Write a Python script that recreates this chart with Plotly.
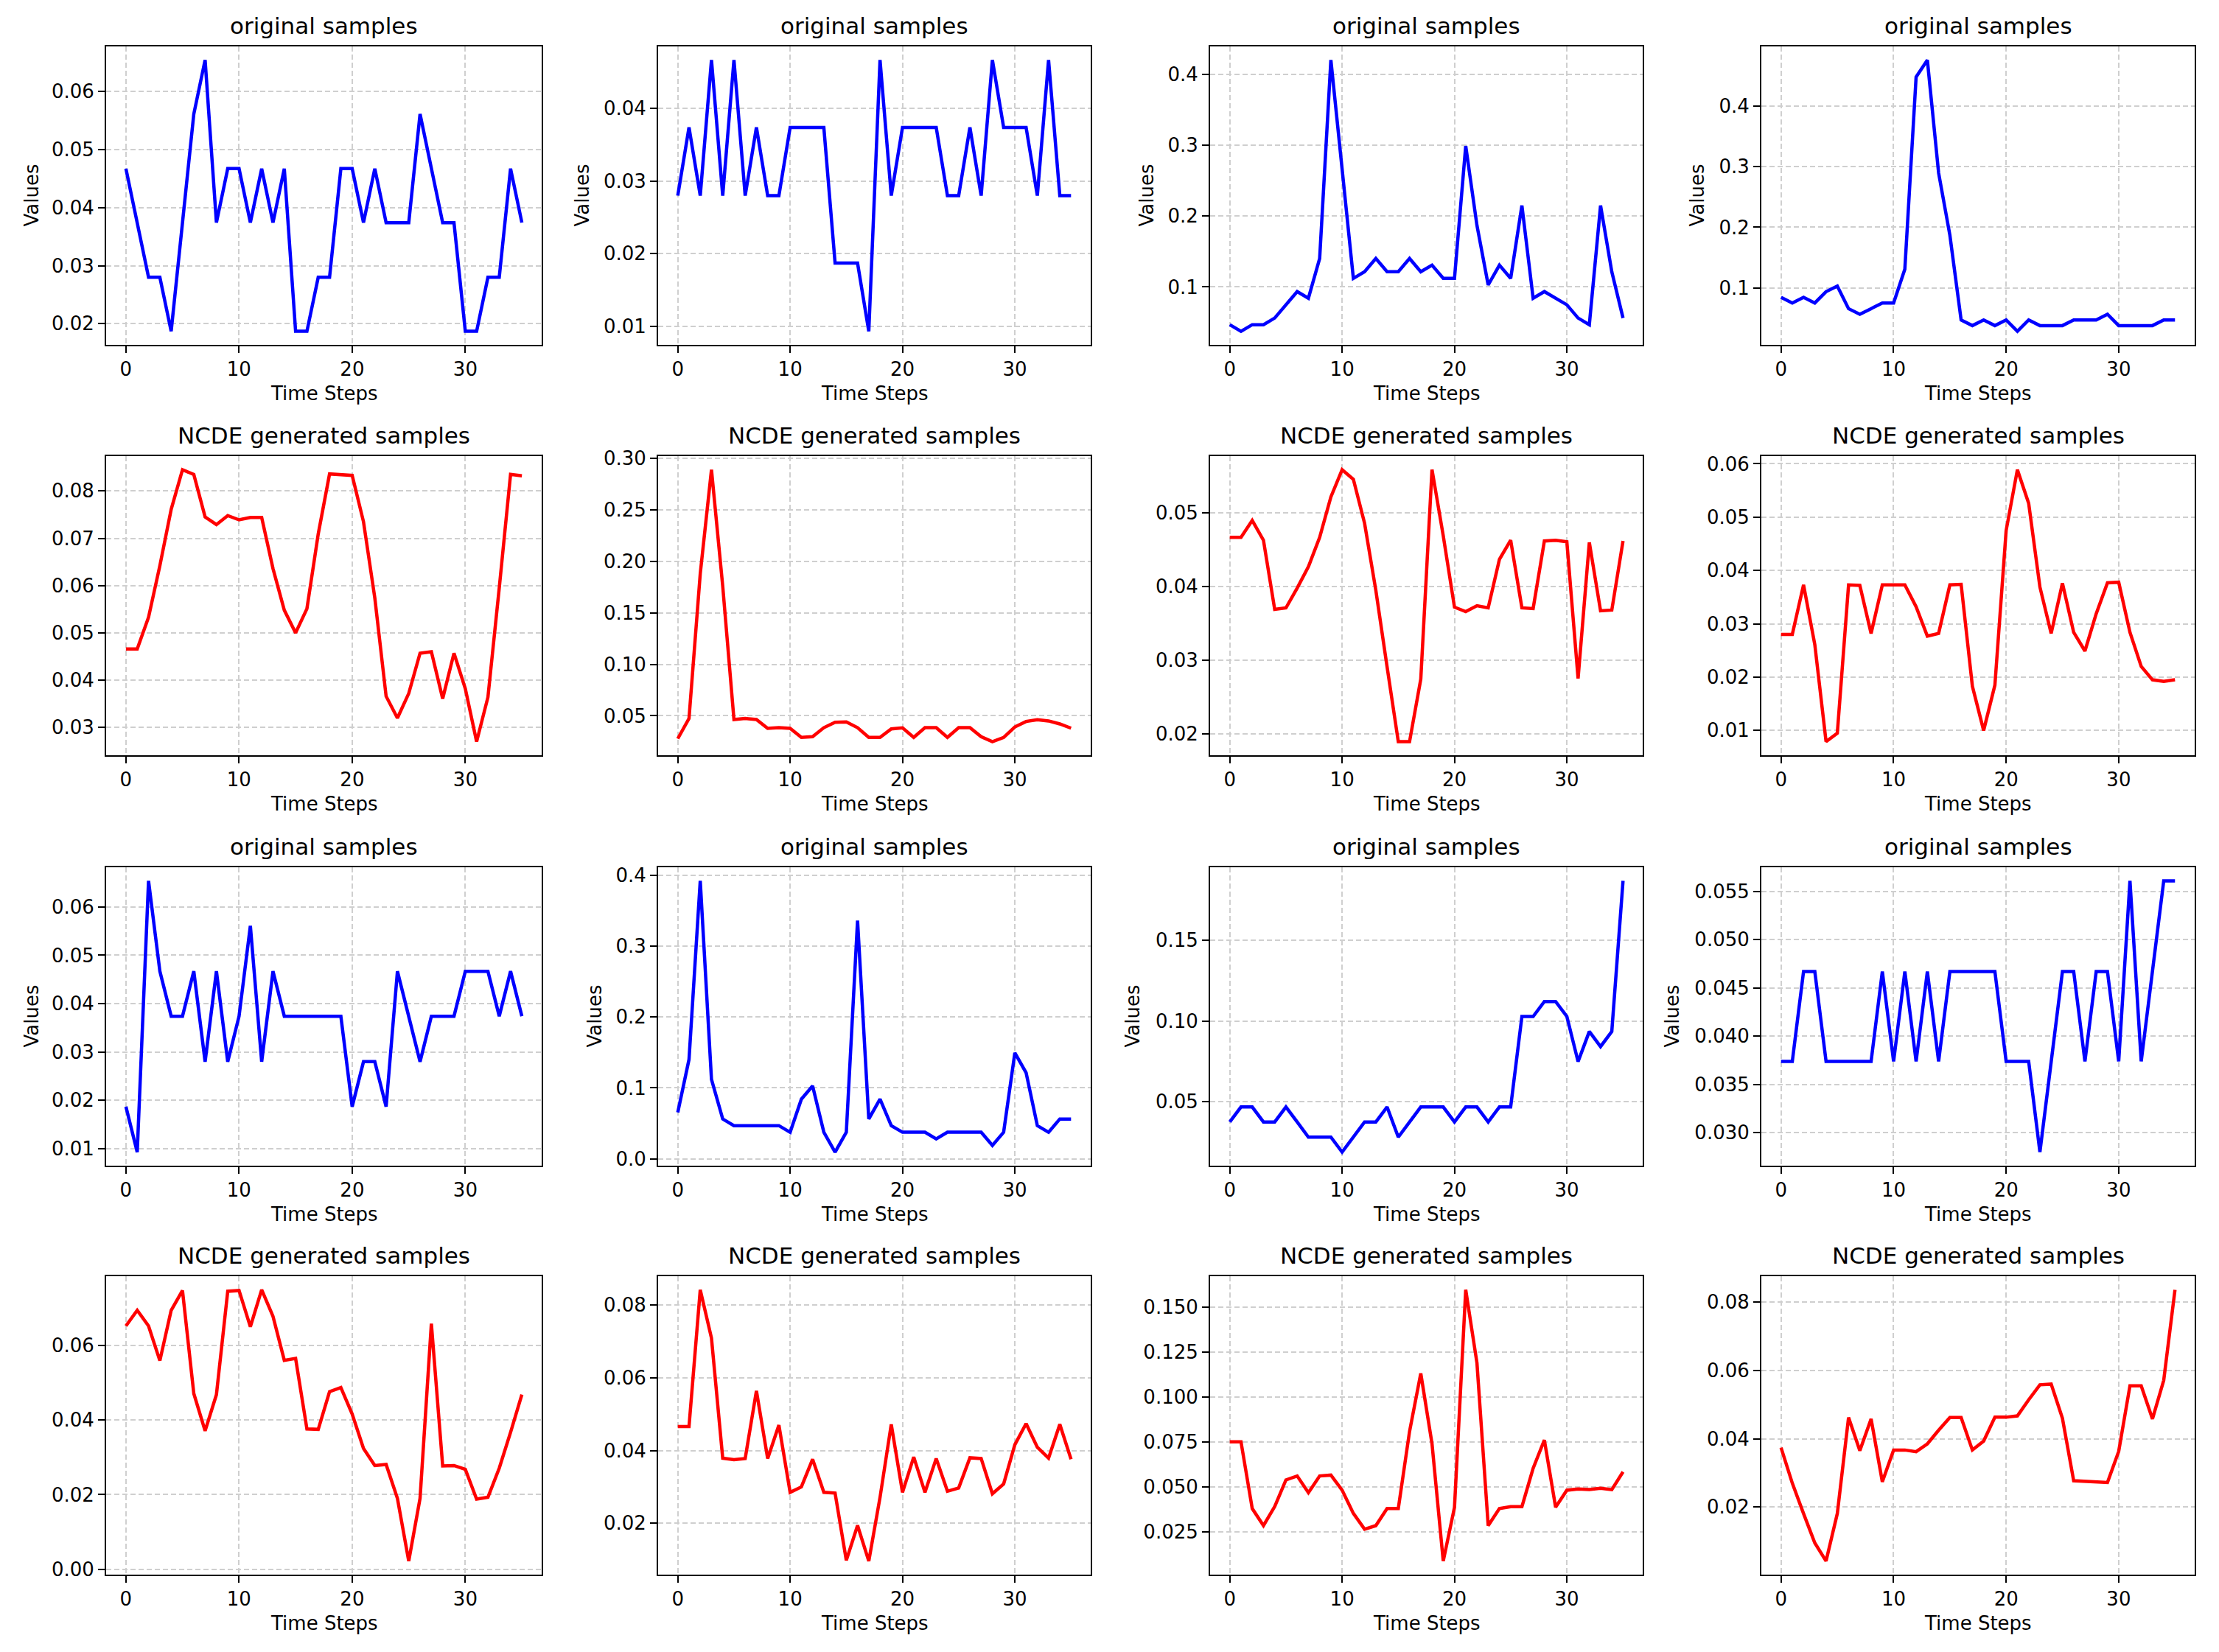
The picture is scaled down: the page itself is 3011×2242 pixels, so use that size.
import plotly.graph_objects as go

time_steps = list(range(36))

# Row 1 (original samples)
orig_r1c1 = [0.0467,0.0374,0.0280,0.0280,0.0187,0.0374,0.0561,0.0654,0.0374,0.0467,0.0467,0.0374,0.0467,0.0374,0.0467,0.0187,0.0187,0.0280,0.0280,0.0467,0.0467,0.0374,0.0467,0.0374,0.0374,0.0374,0.0561,0.0467,0.0374,0.0374,0.0187,0.0187,0.0280,0.0280,0.0467,0.0374]
orig_r1c2 = [0.0280,0.0374,0.0280,0.0467,0.0280,0.0467,0.0280,0.0374,0.0280,0.0280,0.0374,0.0374,0.0374,0.0374,0.0187,0.0187,0.0187,0.0093,0.0467,0.0280,0.0374,0.0374,0.0374,0.0374,0.0280,0.0280,0.0374,0.0280,0.0467,0.0374,0.0374,0.0374,0.0280,0.0467,0.0280,0.0280]
orig_r1c3 = [0.0467,0.0374,0.0467,0.0467,0.0561,0.0748,0.0935,0.0841,0.1402,0.4206,0.2617,0.1121,0.1215,0.1402,0.1215,0.1215,0.1402,0.1215,0.1308,0.1121,0.1121,0.2991,0.1869,0.1028,0.1308,0.1121,0.2150,0.0841,0.0935,0.0841,0.0748,0.0561,0.0467,0.2150,0.1215,0.0561]
orig_r1c4 = [0.0841,0.0748,0.0841,0.0748,0.0935,0.1028,0.0654,0.0561,0.0654,0.0748,0.0748,0.1308,0.4486,0.4766,0.2897,0.1869,0.0467,0.0374,0.0467,0.0374,0.0467,0.0280,0.0467,0.0374,0.0374,0.0374,0.0467,0.0467,0.0467,0.0561,0.0374,0.0374,0.0374,0.0374,0.0467,0.0467]

# Row 2 (NCDE generated samples)
gen_r2c1 = [0.0466,0.0466,0.0533,0.0642,0.0761,0.0845,0.0835,0.0745,0.0729,0.0748,0.0739,0.0744,0.0744,0.0636,0.0548,0.0500,0.0551,0.0709,0.0836,0.0835,0.0833,0.0735,0.0574,0.0366,0.0320,0.0372,0.0457,0.0460,0.0361,0.0457,0.0382,0.0270,0.0364,0.0595,0.0835,0.0832]
gen_r2c2 = [0.0278,0.0474,0.1880,0.2890,0.1760,0.0464,0.0474,0.0464,0.0378,0.0385,0.0378,0.0290,0.0297,0.0385,0.0438,0.0440,0.0385,0.0290,0.0290,0.0373,0.0383,0.0290,0.0385,0.0385,0.0290,0.0385,0.0385,0.0297,0.0249,0.0290,0.0392,0.0445,0.0462,0.0450,0.0421,0.0380]
gen_r2c3 = [0.0467,0.0467,0.0490,0.0463,0.0369,0.0371,0.0398,0.0427,0.0467,0.0522,0.0559,0.0546,0.0486,0.0395,0.0291,0.0189,0.0189,0.0274,0.0559,0.0469,0.0372,0.0366,0.0374,0.0371,0.0437,0.0463,0.0371,0.0370,0.0462,0.0463,0.0461,0.0275,0.0460,0.0367,0.0368,0.0462]
gen_r2c4 = [0.0280,0.0280,0.0373,0.0261,0.0079,0.0095,0.0373,0.0372,0.0282,0.0373,0.0373,0.0373,0.0332,0.0277,0.0282,0.0373,0.0374,0.0183,0.0100,0.0185,0.0475,0.0589,0.0526,0.0369,0.0282,0.0376,0.0284,0.0249,0.0319,0.0377,0.0378,0.0284,0.0220,0.0195,0.0192,0.0195]

# Row 3 (original samples)
orig_r3c1 = [0.0187,0.0093,0.0654,0.0467,0.0374,0.0374,0.0467,0.0280,0.0467,0.0280,0.0374,0.0561,0.0280,0.0467,0.0374,0.0374,0.0374,0.0374,0.0374,0.0374,0.0187,0.0280,0.0280,0.0187,0.0467,0.0374,0.0280,0.0374,0.0374,0.0374,0.0467,0.0467,0.0467,0.0374,0.0467,0.0374]
orig_r3c2 = [0.0654,0.1402,0.3925,0.1121,0.0561,0.0467,0.0467,0.0467,0.0467,0.0467,0.0374,0.0841,0.1028,0.0374,0.0093,0.0374,0.3364,0.0561,0.0841,0.0467,0.0374,0.0374,0.0374,0.0280,0.0374,0.0374,0.0374,0.0374,0.0187,0.0374,0.1495,0.1215,0.0467,0.0374,0.0561,0.0561]
orig_r3c3 = [0.0374,0.0467,0.0467,0.0374,0.0374,0.0467,0.0374,0.0280,0.0280,0.0280,0.0187,0.0280,0.0374,0.0374,0.0467,0.0280,0.0374,0.0467,0.0467,0.0467,0.0374,0.0467,0.0467,0.0374,0.0467,0.0467,0.1028,0.1028,0.1121,0.1121,0.1028,0.0748,0.0935,0.0841,0.0935,0.1869]
orig_r3c4 = [0.0374,0.0374,0.0467,0.0467,0.0374,0.0374,0.0374,0.0374,0.0374,0.0467,0.0374,0.0467,0.0374,0.0467,0.0374,0.0467,0.0467,0.0467,0.0467,0.0467,0.0374,0.0374,0.0374,0.0280,0.0374,0.0467,0.0467,0.0374,0.0467,0.0467,0.0374,0.0561,0.0374,0.0467,0.0561,0.0561]

# Row 4 (NCDE generated samples)
gen_r4c1 = [0.0652,0.0694,0.0652,0.0559,0.0694,0.0747,0.0471,0.0371,0.0468,0.0745,0.0747,0.0650,0.0749,0.0678,0.0560,0.0565,0.0376,0.0375,0.0476,0.0487,0.0416,0.0324,0.0278,0.0281,0.0190,0.0022,0.0190,0.0658,0.0277,0.0278,0.0268,0.0188,0.0193,0.0271,0.0367,0.0468]
gen_r4c2 = [0.0466,0.0466,0.0842,0.0709,0.0379,0.0375,0.0378,0.0564,0.0378,0.0470,0.0285,0.0300,0.0376,0.0285,0.0283,0.0098,0.0194,0.0096,0.0271,0.0472,0.0285,0.0382,0.0285,0.0378,0.0288,0.0297,0.0380,0.0378,0.0281,0.0308,0.0416,0.0474,0.0409,0.0379,0.0472,0.0376]
gen_r4c3 = [0.0750,0.0750,0.0379,0.0284,0.0390,0.0538,0.0560,0.0467,0.0560,0.0565,0.0481,0.0352,0.0264,0.0284,0.0379,0.0379,0.0807,0.1130,0.0739,0.0087,0.0386,0.1595,0.1188,0.0284,0.0379,0.0389,0.0389,0.0603,0.0760,0.0386,0.0481,0.0488,0.0485,0.0492,0.0484,0.0583]
gen_r4c4 = [0.0374,0.0270,0.0181,0.0095,0.0042,0.0181,0.0462,0.0365,0.0458,0.0274,0.0367,0.0367,0.0362,0.0385,0.0425,0.0462,0.0462,0.0367,0.0393,0.0463,0.0463,0.0467,0.0514,0.0558,0.0560,0.0460,0.0277,0.0275,0.0272,0.0272,0.0363,0.0555,0.0555,0.0458,0.0571,0.0836]

x_tick_vals = [0, 10, 20, 30]
orig_title = "original samples"
gen_title = "NCDE generated samples"
x_label = "Time Steps"
y_label = "Values"

grid_rows = [
    [orig_r1c1, orig_r1c2, orig_r1c3, orig_r1c4],
    [gen_r2c1, gen_r2c2, gen_r2c3, gen_r2c4],
    [orig_r3c1, orig_r3c2, orig_r3c3, orig_r3c4],
    [gen_r4c1, gen_r4c2, gen_r4c3, gen_r4c4],
]
row_is_orig = [True, False, True, False]

# tick step and format per panel
tick_spec = [
    [(0.01, ".2f"), (0.01, ".2f"), (0.1, ".1f"), (0.1, ".1f")],
    [(0.01, ".2f"), (0.05, ".2f"), (0.01, ".2f"), (0.01, ".2f")],
    [(0.01, ".2f"), (0.1, ".1f"), (0.05, ".2f"), (0.005, ".3f")],
    [(0.02, ".2f"), (0.02, ".2f"), (0.025, ".3f"), (0.02, ".2f")],
]
ylabel_offset = [[102, 104, 87, 88], None, [102, 87, 106, 122], None]

W, H = 3011, 2242
col_px = [(144, 735), (893, 1480), (1642, 2229), (2390, 2978)]
row_px = [(63, 468), (619, 1025), (1177, 1582), (1732, 2137)]

FONT = "DejaVu Sans"
fig = go.Figure()
annotations = []
layout_axes = {}

k = 0
for r in range(4):
    for c in range(4):
        k += 1
        vals = grid_rows[r][c]
        color = "#0000ff" if row_is_orig[r] else "#ff0000"
        xa = "x" if k == 1 else f"x{k}"
        ya = "y" if k == 1 else f"y{k}"
        fig.add_trace(go.Scatter(x=time_steps, y=vals, mode="lines",
                                 line=dict(color=color, width=4.5),
                                 xaxis=xa, yaxis=ya, showlegend=False))
        x0, x1 = col_px[c][0] / W, col_px[c][1] / W
        y1, y0 = 1 - row_px[r][0] / H, 1 - row_px[r][1] / H
        vmin, vmax = min(vals), max(vals)
        pad = 0.05 * (vmax - vmin)
        step, fmt = tick_spec[r][c]
        common = dict(showline=True, mirror=True, linecolor="black", linewidth=2,
                      ticks="outside", ticklen=9, tickwidth=2, tickcolor="black",
                      showgrid=True, gridcolor="#cfcfcf", gridwidth=1.5, griddash="7px,4px",
                      zeroline=False, automargin=False,
                      tickfont=dict(family=FONT, size=26, color="black"))
        xkey = "xaxis" if k == 1 else f"xaxis{k}"
        ykey = "yaxis" if k == 1 else f"yaxis{k}"
        layout_axes[xkey] = dict(domain=[x0, x1], anchor=ya, range=[-1.75, 36.75],
                                 tickmode="array", tickvals=x_tick_vals, **common)
        layout_axes[ykey] = dict(domain=[y0, y1], anchor=xa, range=[vmin - pad, vmax + pad],
                                 tickmode="linear", tick0=0, dtick=step, tickformat=fmt, **common)
        xm = (x0 + x1) / 2
        annotations.append(dict(text=orig_title if row_is_orig[r] else gen_title,
                                x=xm, y=y1, xref="paper", yref="paper",
                                xanchor="center", yanchor="bottom", yshift=8, showarrow=False,
                                font=dict(family=FONT, size=31, color="black")))
        annotations.append(dict(text=x_label, x=xm, y=y0, xref="paper", yref="paper",
                                xanchor="center", yanchor="middle", yshift=-66, showarrow=False,
                                font=dict(family=FONT, size=26, color="black")))
        if ylabel_offset[r] is not None:
            annotations.append(dict(text=y_label, x=x0, y=(y0 + y1) / 2, xref="paper", yref="paper",
                                    xanchor="center", yanchor="middle", xshift=-ylabel_offset[r][c],
                                    textangle=-90, showarrow=False,
                                    font=dict(family=FONT, size=26, color="black")))

fig.update_layout(width=W, height=H, margin=dict(l=0, r=0, t=0, b=0, autoexpand=False),
                  paper_bgcolor="white", plot_bgcolor="white",
                  annotations=annotations, **layout_axes)
fig.write_html("out.html")
